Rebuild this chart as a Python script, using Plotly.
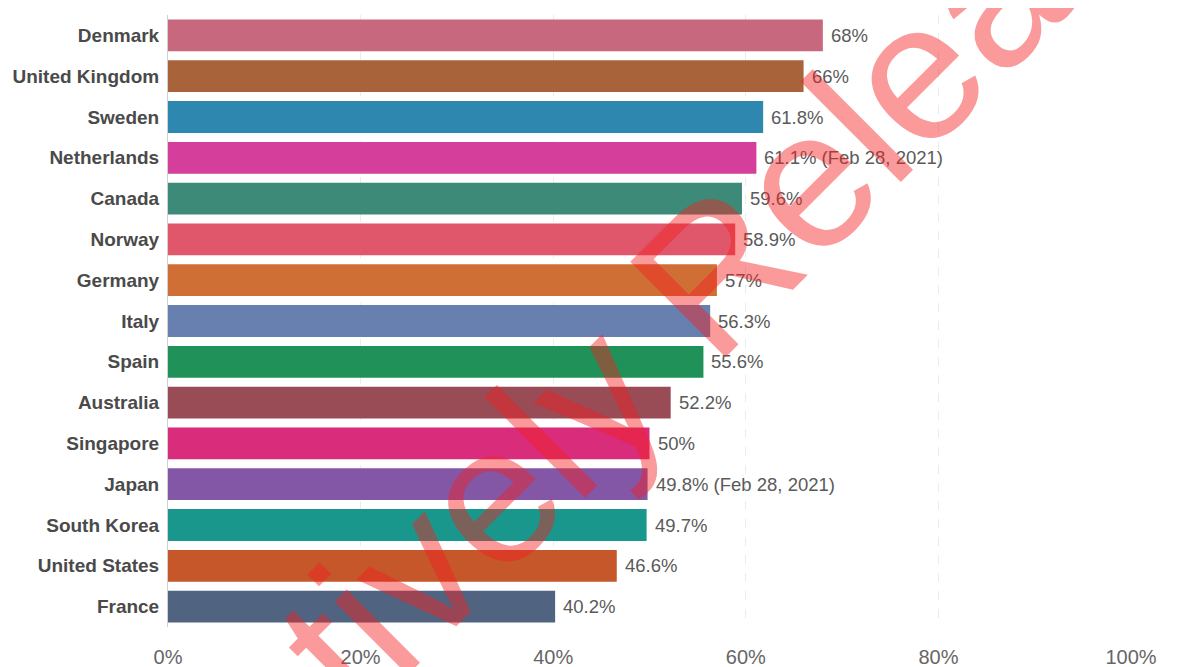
import plotly.graph_objects as go

countries = ["Denmark", "United Kingdom", "Sweden", "Netherlands", "Canada", "Norway",
             "Germany", "Italy", "Spain", "Australia", "Singapore", "Japan",
             "South Korea", "United States", "France"]
values = [68, 66, 61.8, 61.1, 59.6, 58.9, 57, 56.3, 55.6, 52.2, 50, 49.8, 49.7, 46.6, 40.2]
notes = ["", "", "", " (Feb 28, 2021)", "", "", "", "", "", "", "", " (Feb 28, 2021)", "", "", ""]
colors = ["#C8687E", "#A9633A", "#2D87AE", "#D53E9B", "#3D8A78", "#E0566B", "#CF6F36",
          "#6880B0", "#1F9159", "#994B56", "#D92C7B", "#8457A6", "#1A978D", "#C5572A", "#506380"]
tick_vals = [0, 20, 40, 60, 80, 100]
tick_text = ["0%", "20%", "40%", "60%", "80%", "100%"]
watermark = "Relatively Released"

fig = go.Figure()
fig.add_trace(go.Bar(
    x=values, y=countries, orientation="h",
    marker=dict(color=colors, line=dict(width=0)),
    hoverinfo="skip",
))

for c, v, n in zip(countries, values, notes):
    fig.add_annotation(
        x=v, y=c, xref="x", yref="y", text=f"{v:g}%{n}",
        showarrow=False, xanchor="left", yanchor="middle", xshift=6,
        font=dict(family="Liberation Sans, Arial, sans-serif", size=18.5, color="#5a5a5a"),
    )

fig.add_annotation(
    x=0.4901, y=0.4559, xref="paper", yref="paper",
    text=watermark, showarrow=False, textangle=-45,
    xanchor="center", yanchor="middle",
    font=dict(family="Liberation Sans, Arial, sans-serif", size=196, color="rgba(245,30,30,0.45)"),
)

fig.update_layout(
    width=1200, height=667,
    margin=dict(l=160, r=77, t=7, b=48),
    paper_bgcolor="white", plot_bgcolor="white",
    bargap=0.22, showlegend=False,
    xaxis=dict(
        range=[0, 100], tickvals=tick_vals, ticktext=tick_text,
        showgrid=True, gridcolor="#ececec", griddash="dash", gridwidth=1,
        zeroline=False, showline=False, automargin=False,
        ticks="outside", ticklen=12, tickcolor="rgba(0,0,0,0)",
        tickfont=dict(family="Liberation Sans, Arial, sans-serif", size=20, color="#666666"),
        fixedrange=True,
    ),
    yaxis=dict(
        autorange="reversed", showgrid=False, zeroline=False, automargin=False,
        showline=True, linecolor="#d0d0d0", linewidth=1,
        ticks="outside", ticklen=4, tickcolor="rgba(0,0,0,0)",
        tickfont=dict(family="Liberation Sans, Arial, sans-serif", size=19, color="#4a4a4a", weight="bold"),
        fixedrange=True,
    ),
)

fig.write_html("out.html")
